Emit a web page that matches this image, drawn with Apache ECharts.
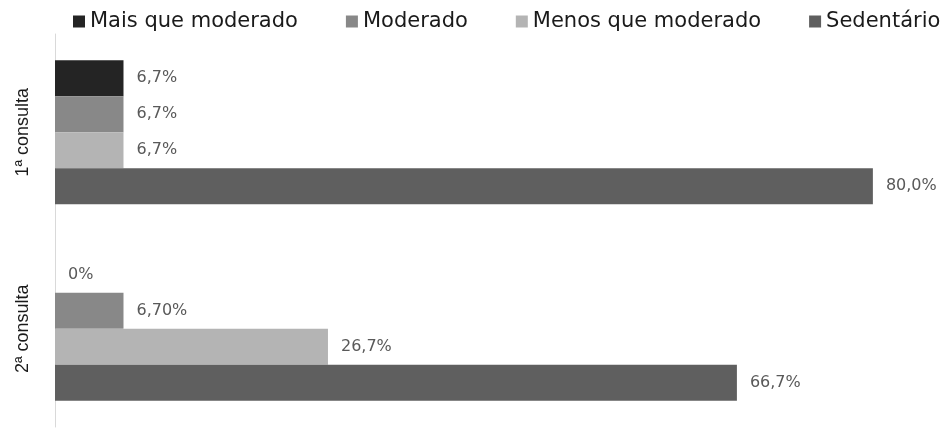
<!DOCTYPE html>
<html>
<head>
<meta charset="utf-8">
<script src="https://cdn.jsdelivr.net/npm/echarts@6/dist/echarts.min.js"></script>
<style>html,body{margin:0;padding:0;background:#fff;}#c{width:949px;height:428px;}</style>
</head>
<body>
<div id="c"></div>
<script>
const categories = ['1ª consulta', '2ª consulta'];
const seriesNames = ['Mais que moderado', 'Moderado', 'Menos que moderado', 'Sedentário'];
const maisQueModerado = [6.7, 0];
const moderado = [6.7, 6.7];
const menosQueModerado = [6.7, 26.7];
const sedentario = [80.0, 66.7];
const maisLabels = ['6,7%', '0%'];
const moderadoLabels = ['6,7%', '6,70%'];
const menosLabels = ['6,7%', '26,7%'];
const sedentarioLabels = ['80,0%', '66,7%'];
const colors = ['#242424', '#888888', '#b4b4b4', '#5f5f5f'];

const values = [maisQueModerado, moderado, menosQueModerado, sedentario];
const labels = [maisLabels, moderadoLabels, menosLabels, sedentarioLabels];

const chart = echarts.init(document.getElementById('c'));
chart.setOption({
  animation: false,
  color: colors,
  legend: {
    data: seriesNames,
    left: 73,
    top: 11,
    width: 876,
    padding: 0,
    icon: 'rect',
    itemWidth: 12,
    itemHeight: 12,
    itemGap: 48,
    textStyle: { fontFamily: 'DejaVu Sans', fontSize: 21, color: '#1a1a1a' }
  },
  grid: { left: 55, right: 25, top: 34, height: 393 },
  xAxis: {
    type: 'value', min: 0, max: 85,
    show: false
  },
  yAxis: {
    type: 'category',
    data: categories,
    inverse: true,
    axisLine: { show: true, lineStyle: { color: '#d9d9d9', width: 1 } },
    axisTick: { show: false },
    axisLabel: { rotate: 90, margin: 23, fontFamily: 'Liberation Sans', fontSize: 18, color: '#1a1a1a' }
  },
  series: seriesNames.map((name, i) => ({
    name: name,
    type: 'bar',
    barWidth: 36,
    barGap: '0%',
    data: values[i],
    itemStyle: { color: colors[i] },
    label: {
      show: true,
      position: 'right',
      distance: 13,
      fontFamily: 'DejaVu Sans',
      fontSize: 16,
      color: '#595959',
      formatter: p => labels[i][p.dataIndex]
    }
  }))
});
</script>
</body>
</html>
